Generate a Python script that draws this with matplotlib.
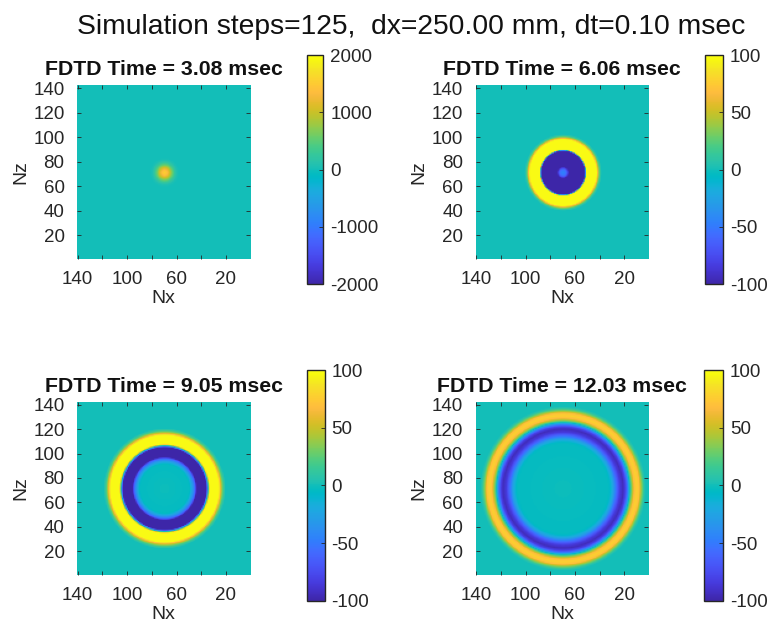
import numpy as np
import matplotlib
matplotlib.use("Agg")
import matplotlib.pyplot as plt
from matplotlib.colors import LinearSegmentedColormap

plt.rcParams['font.family'] = ['Liberation Sans', 'DejaVu Sans']

# parula-like colour map (MATLAB default)
PARULA = [
    (0.2422, 0.1504, 0.6603), (0.2504, 0.1650, 0.7076), (0.2578, 0.1818, 0.7511),
    (0.2647, 0.1978, 0.7952), (0.2706, 0.2147, 0.8364), (0.2751, 0.2342, 0.8710),
    (0.2783, 0.2559, 0.8991), (0.2803, 0.2782, 0.9221), (0.2813, 0.3006, 0.9414),
    (0.2810, 0.3228, 0.9579), (0.2795, 0.3447, 0.9717), (0.2760, 0.3667, 0.9829),
    (0.2699, 0.3892, 0.9906), (0.2602, 0.4123, 0.9952), (0.2440, 0.4358, 0.9988),
    (0.2206, 0.4603, 0.9973), (0.1963, 0.4847, 0.9892), (0.1834, 0.5074, 0.9798),
    (0.1786, 0.5289, 0.9682), (0.1764, 0.5499, 0.9520), (0.1687, 0.5703, 0.9359),
    (0.1540, 0.5902, 0.9218), (0.1460, 0.6091, 0.9079), (0.1380, 0.6276, 0.8973),
    (0.1248, 0.6459, 0.8883), (0.1113, 0.6635, 0.8763), (0.0952, 0.6798, 0.8598),
    (0.0689, 0.6948, 0.8394), (0.0297, 0.7082, 0.8163), (0.0036, 0.7203, 0.7917),
    (0.0067, 0.7312, 0.7660), (0.0433, 0.7411, 0.7394), (0.0964, 0.7500, 0.7120),
    (0.1408, 0.7584, 0.6842), (0.1717, 0.7670, 0.6554), (0.1938, 0.7758, 0.6251),
    (0.2161, 0.7843, 0.5923), (0.2470, 0.7918, 0.5567), (0.2906, 0.7973, 0.5188),
    (0.3406, 0.8008, 0.4789), (0.3909, 0.8029, 0.4354), (0.4456, 0.8024, 0.3909),
    (0.5044, 0.7993, 0.3480), (0.5616, 0.7942, 0.3045), (0.6174, 0.7876, 0.2612),
    (0.6720, 0.7793, 0.2227), (0.7242, 0.7698, 0.1910), (0.7738, 0.7598, 0.1646),
    (0.8203, 0.7498, 0.1535), (0.8634, 0.7406, 0.1596), (0.9035, 0.7330, 0.1774),
    (0.9393, 0.7288, 0.2100), (0.9728, 0.7298, 0.2394), (0.9956, 0.7434, 0.2371),
    (0.9970, 0.7659, 0.2199), (0.9952, 0.7893, 0.2028), (0.9892, 0.8136, 0.1885),
    (0.9809, 0.8386, 0.1751), (0.9704, 0.8639, 0.1616), (0.9620, 0.8903, 0.1450),
    (0.9590, 0.9190, 0.1198), (0.9626, 0.9495, 0.0885), (0.9705, 0.9809, 0.0538),
    (0.9769, 0.9839, 0.0805),
]
parula = LinearSegmentedColormap.from_list("parula", PARULA)

# grid and source
nx = 140
nz = 142
src_x = 70
src_z = 71

times = [3.08, 6.06, 9.05, 12.03]
clims = [2000, 100, 100, 100]

# radial profiles (radius in cells -> field value)
r1 = [0, 2, 4, 6, 8, 10, 12]
v1 = [1550, 1400, 1050, 600, 250, 60, 0]

r2 = [0, 2.5, 4, 5.2, 17.6, 19.0, 26.5, 27.5, 28.6, 29.7, 31.2]
v2 = [-45, -55, -85, -115, -115, 115, 115, 80, 45, 15, 0]

r3 = [0, 20, 22.5, 24.5, 26, 33.5, 35, 36.5, 43, 45, 47, 49]
v3 = [-1, -4, -30, -60, -110, -110, 0, 115, 115, 60, 20, 0]

r4 = [0, 37.5, 40.5, 43, 46, 48.5, 50.5, 52.5, 54, 55.5, 57.5, 59.5, 61.5, 63.5, 65.5, 67]
v4 = [-1, -4, -25, -55, -85, -95, -80, -40, 0, 35, 68, 78, 70, 35, 8, 0]

profiles = [(r1, v1), (r2, v2), (r3, v3), (r4, v4)]

# figure layout (fractions)
ax_pos = [
    [0.1003, 0.5902, 0.2253, 0.2753],
    [0.6194, 0.5902, 0.2247, 0.2753],
    [0.1003, 0.0902, 0.2253, 0.2742],
    [0.6194, 0.0902, 0.2247, 0.2742],
]
cb_pos = [
    [0.3993, 0.5506, 0.0216, 0.3623],
    [0.9176, 0.5506, 0.0238, 0.3623],
    [0.3997, 0.0495, 0.0230, 0.3650],
    [0.9167, 0.0495, 0.0247, 0.3650],
]

txt = '#262626'
fig = plt.figure(figsize=(7.68, 6.32), dpi=100)
fig.text(0.535, 0.958, 'Simulation steps=125,  dx=250.00 mm, dt=0.10 msec',
         ha='center', va='center', fontsize=20.3, color='#111111')

xg, zg = np.meshgrid(np.arange(1, nx + 1), np.arange(1, nz + 1))
dist = np.hypot(xg - src_x, zg - src_z)

for i in range(4):
    r, v = profiles[i]
    field = np.interp(dist, r, v)
    c = clims[i]
    ax = fig.add_axes(ax_pos[i])
    im = ax.imshow(field, origin='lower', extent=[0.5, nx + 0.5, 0.5, nz + 0.5],
                   aspect='auto', cmap=parula, vmin=-c, vmax=c)
    ax.set_xlim(nx + 0.5, 0.5)
    ax.set_ylim(0.5, nz + 0.5)
    ax.set_xticks([20, 40, 60, 80, 100, 120, 140])
    ax.set_xticklabels(['20', '', '60', '', '100', '', '140'])
    ax.set_yticks([20, 40, 60, 80, 100, 120, 140])
    ax.tick_params(direction='in', top=True, right=True, length=3, width=0.6,
                   color=txt, labelcolor=txt, labelsize=13.5, pad=9)
    for s in ax.spines.values():
        s.set_visible(False)
    ax.set_xlabel('Nx', fontsize=14, color=txt, labelpad=1)
    ax.set_ylabel('Nz', fontsize=14, color=txt, labelpad=3)
    ax.set_title('FDTD Time = %.2f msec' % times[i], fontsize=15.3,
                 fontweight='bold', color='#111111', pad=7)

    cax = fig.add_axes(cb_pos[i])
    cb = fig.colorbar(im, cax=cax, ticks=[-c, -c / 2, 0, c / 2, c])
    cb.set_ticklabels(['%d' % t for t in [-c, -c // 2, 0, c // 2, c]])
    cb.outline.set_edgecolor(txt)
    cb.outline.set_linewidth(1.0)
    cax.tick_params(direction='in', length=3, width=0.6, color=txt,
                    labelcolor=txt, labelsize=13.5, pad=5)

fig.savefig('out.png', dpi=100)
